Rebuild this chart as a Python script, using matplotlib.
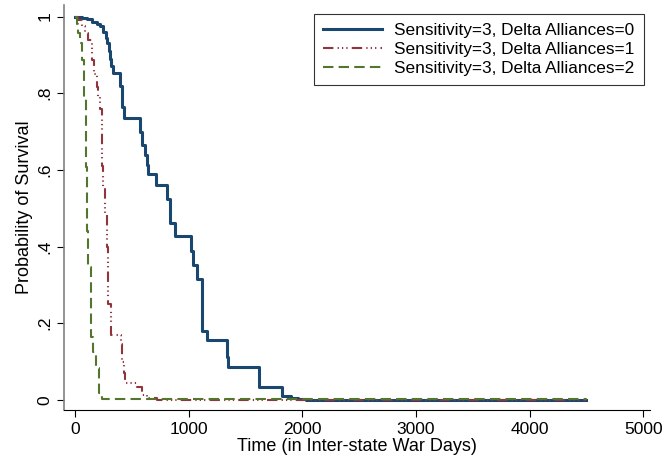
import matplotlib
matplotlib.use('Agg')
import matplotlib.pyplot as plt

plt.rcParams['font.family'] = ['Liberation Sans', 'DejaVu Sans']

# Kaplan-Meier steps
t0 = [0, 60, 110, 150, 190, 220, 250, 270, 285, 300, 310, 320, 335, 400, 415, 430,
      575, 590, 615, 630, 645, 715, 810, 840, 880, 1020, 1040, 1075, 1115, 1120,
      1165, 1340, 1350, 1620, 1820, 1900, 1960, 2030, 4500]
s0 = [1, 0.997, 0.993, 0.985, 0.98, 0.975, 0.96, 0.945, 0.93, 0.91, 0.89, 0.87, 0.853,
      0.82, 0.764, 0.736, 0.7, 0.664, 0.64, 0.613, 0.589, 0.56, 0.525, 0.462, 0.427,
      0.389, 0.353, 0.315, 0.274, 0.18, 0.155, 0.113, 0.085, 0.033, 0.01, 0.005,
      0.002, 0.0, 0.0]

t1 = [0, 30, 60, 88, 117, 147, 170, 191, 205, 220, 235, 250, 264, 279, 295, 317,
      402, 415, 431, 440, 548, 586, 630, 720, 4500]
s1 = [1, 0.99, 0.975, 0.956, 0.938, 0.886, 0.85, 0.817, 0.79, 0.76, 0.61, 0.55,
      0.487, 0.4, 0.25, 0.169, 0.146, 0.1, 0.07, 0.044, 0.033, 0.013, 0.005, 0.0, 0.0]

t2 = [0, 15, 30, 44, 59, 79, 97, 108, 117, 137, 161, 185, 214, 235, 4500]
s2 = [1, 0.98, 0.956, 0.93, 0.886, 0.79, 0.607, 0.44, 0.347, 0.165, 0.126, 0.083,
      0.018, 0.003, 0.0]

labels = ['Sensitivity=3, Delta Alliances=0',
          'Sensitivity=3, Delta Alliances=1',
          'Sensitivity=3, Delta Alliances=2']
xticks = [0, 1000, 2000, 3000, 4000, 5000]
yticks = [0, 0.2, 0.4, 0.6, 0.8, 1]
yticklabels = ['0', '.2', '.4', '.6', '.8', '1']

fig = plt.figure(figsize=(6.66, 4.59), dpi=100)
ax = fig.add_axes([0.096, 0.107, 0.88, 0.882])

ax.plot(t0, s0, drawstyle='steps-post', color='#1a476f', lw=2.2, label=labels[0])
ax.plot(t1, s1, drawstyle='steps-post', color='#90353b', lw=1.5,
        dashes=(5, 2, 0.6, 1.5, 0.6, 1.5, 0.6, 2), label=labels[1])
ax.plot(t2, s2, drawstyle='steps-post', color='#55752f', lw=1.5,
        dashes=(5, 2.5), label=labels[2])

ax.set_xlim(-97, 5060)
ax.set_ylim(-0.026, 1.03)
ax.set_xticks(xticks)
ax.set_yticks(yticks)
ax.set_yticklabels(yticklabels, rotation=90, va='center')
ax.tick_params(labelsize=12.5, direction='out', length=5)
ax.spines['top'].set_visible(False)
ax.spines['right'].set_visible(False)
ax.spines['left'].set_color('#808080')
ax.spines['left'].set_linewidth(1.2)
ax.set_xlabel('Time (in Inter-state War Days)', fontsize=13, labelpad=1)
ax.set_ylabel('Probability of Survival', fontsize=13, labelpad=3)

leg = ax.legend(loc='upper right', fontsize=12.4, frameon=True, fancybox=False,
                edgecolor='black', handlelength=3.4, handletextpad=0.7,
                borderpad=0.55, labelspacing=0.22, bbox_to_anchor=(1.004, 1.0))
leg.get_frame().set_linewidth(0.8)

fig.savefig('out.png', dpi=100)
